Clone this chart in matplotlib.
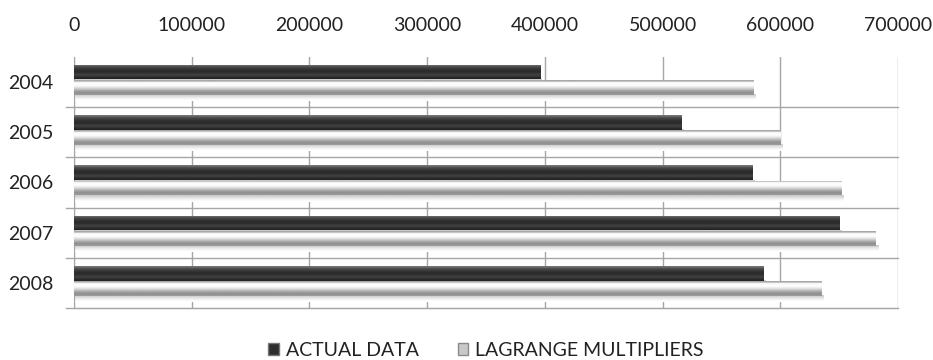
import numpy as np
import matplotlib
matplotlib.use("Agg")
import matplotlib.pyplot as plt
from matplotlib.patches import Patch

plt.rcParams["font.family"] = ["Lato", "DejaVu Sans"]

years = ["2004", "2005", "2006", "2007", "2008"]
actual_data = [396000, 516000, 576000, 650000, 586000]
lagrange = [577000, 600000, 652000, 681000, 635000]
series_names = ["ACTUAL DATA", "LAGRANGE MULTIPLIERS"]

# vertical shade profiles (top -> bottom) to mimic the bevelled bars
dark_shade = [0.45, 0.32, 0.24, 0.19, 0.17, 0.20, 0.26, 0.20, 0.14]
light_shade = [0.66, 0.96, 1.0, 0.97, 0.88, 0.76, 0.64, 0.57, 0.60]
shadow_shade = [0.80, 0.88, 0.95, 1.0]


def shaded_bars(ax, ypos, widths, height, shade):
    bars = ax.barh(ypos, widths, height=height, color="none", edgecolor="none", zorder=3)
    grad = np.array(shade).reshape(-1, 1)
    sgrad = np.array(shadow_shade).reshape(-1, 1)
    for b in bars:
        x0, y0 = b.get_x(), b.get_y()
        w, h = b.get_width(), b.get_height()
        # soft shadow under the bar
        ax.imshow(sgrad, cmap="gray", vmin=0, vmax=1, aspect="auto",
                  extent=(x0, x0 + w * 1.003, y0 + h * 1.45, y0 + h),
                  zorder=2.5, interpolation="bilinear")
        im = ax.imshow(grad, cmap="gray", vmin=0, vmax=1, aspect="auto",
                       extent=(x0, x0 + w, y0 + h, y0), zorder=3.5,
                       interpolation="bilinear")
        im.set_clip_path(b)
    return bars


fig = plt.figure(figsize=(9.33, 3.6), dpi=100)
ax = fig.add_axes([0.0793, 0.144, 0.8832, 0.699])

y = np.arange(len(years))
h = 0.29
shaded_bars(ax, y - 0.19, actual_data, h, dark_shade)
shaded_bars(ax, y + 0.11, lagrange, h, light_shade)

ax.set_xlim(0, 700000)
ax.set_ylim(len(years) - 0.5, -0.5)
ax.xaxis.tick_top()
ax.set_xticks(np.arange(0, 700001, 100000))
ax.set_xticklabels([str(v) for v in range(0, 700001, 100000)], fontsize=14, color="#222222")
ax.tick_params(axis="x", length=0, pad=16)
ax.set_yticks(y)
ax.set_yticklabels(years, fontsize=14, color="#222222")
ax.tick_params(axis="y", length=0, pad=15)

# category separators like the original (extending left past the axis)
for b in np.arange(0.5, len(years), 1.0):
    ax.plot([-0.01, 1.0], [b, b], transform=ax.get_yaxis_transform(),
            color="#a6a6a6", lw=1, clip_on=False, zorder=1)
ax.grid(axis="x", color="#a6a6a6", lw=1, zorder=1)
ax.set_axisbelow(True)
for s in ["top", "right"]:
    ax.spines[s].set_visible(False)
ax.spines["left"].set_color("#a6a6a6")
ax.spines["bottom"].set_color("#a6a6a6")

handles = [Patch(facecolor="#2e2e2e", edgecolor="#777777"),
           Patch(facecolor="#c8c8c8", edgecolor="#8a8a8a")]
fig.legend(handles, series_names, loc="lower center", bbox_to_anchor=(0.521, -0.045),
           ncol=2, frameon=False, fontsize=14, handlelength=0.55, handleheight=0.55,
           handletextpad=0.35, columnspacing=2.0, labelcolor="#222222")

fig.savefig("out.png", dpi=100)
